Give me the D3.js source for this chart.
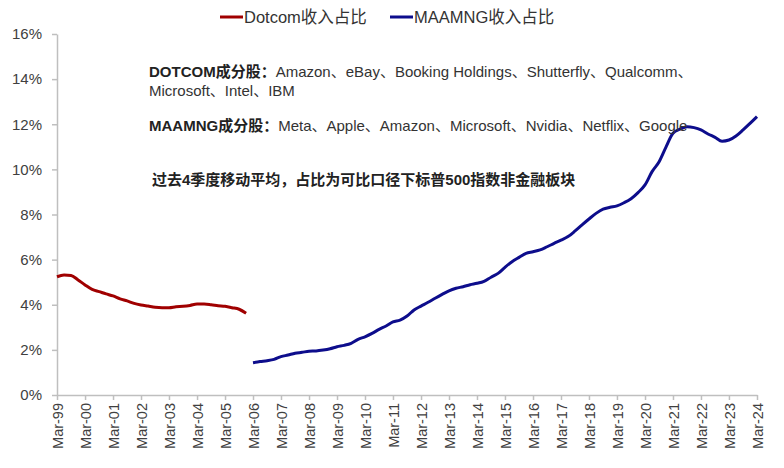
<!DOCTYPE html>
<html>
<head>
<meta charset="utf-8">
<script src="https://cdn.jsdelivr.net/npm/d3@7"></script>
<style>
  body { margin: 0; background: #fff; }
  text { font-family: "Liberation Sans", Arial, "Noto Sans CJK SC", sans-serif; }
</style>
</head>
<body>
<div id="chart"></div>
<script>
// quarterly values, % of S&P 500 non-financial revenue
const dotcomStart = [1999, 3]; // Mar-99
const dotcomValues = [
    5.24, 5.32, 5.30, 5.10,
    4.88, 4.68, 4.58, 4.48,
    4.39, 4.26, 4.17, 4.06,
    3.99, 3.94, 3.89, 3.87,
    3.87, 3.91, 3.93, 3.97,
    4.03, 4.03, 4.00, 3.96,
    3.93, 3.87, 3.80, 3.62
];
const maamngStart = [2006, 3]; // Mar-06
const maamngValues = [
    1.43, 1.48, 1.52, 1.58,
    1.70, 1.77, 1.85, 1.89,
    1.94, 1.95, 1.99, 2.05,
    2.14, 2.20, 2.29, 2.47,
    2.58, 2.73, 2.91, 3.06,
    3.24, 3.32, 3.50, 3.77,
    3.94, 4.11, 4.29, 4.46,
    4.62, 4.73, 4.80, 4.89,
    4.95, 5.04, 5.22, 5.39,
    5.66, 5.91, 6.10, 6.28,
    6.35, 6.43, 6.57, 6.72,
    6.86, 7.02, 7.27, 7.54,
    7.80, 8.05, 8.24, 8.32,
    8.38, 8.52, 8.70, 8.97,
    9.31, 9.90, 10.34, 11.00,
    11.60, 11.78, 11.89, 11.85,
    11.75, 11.57, 11.42, 11.25,
    11.30, 11.48, 11.75, 12.04,
    12.34
];
const tickYears = d3.range(1999, 2025); // Mar-99 ... Mar-24
const yTicks = [0, 2, 4, 6, 8, 10, 12, 14, 16];
const seriesNames = ["Dotcom收入占比", "MAAMNG收入占比"];
const notes = [
    {bold: "DOTCOM成分股：", rest: "Amazon、eBay、Booking Holdings、Shutterfly、Qualcomm、"},
    {bold: "", rest: "Microsoft、Intel、IBM"},
    {bold: "MAAMNG成分股：", rest: "Meta、Apple、Amazon、Microsoft、Nvidia、Netflix、Google"},
    {bold: "过去4季度移动平均，占比为可比口径下标普500指数非金融板块", rest: ""}
];

// page setup
const width = 784;
const height = 468;
const margin = {top: 34, right: 27, bottom: 73, left: 57};
const red = "#a00000";
const blue = "#0d0d8c";
const axisColor = "#bfbfbf";
const textColor = "#404040";

const svg = d3.select("#chart")
    .append("svg")
    .attr("width", width)
    .attr("height", height);

// turn a start month + quarter index into a date
const toSeries = (start, values) => values.map((v, i) => ({
    date: new Date(start[0], start[1] - 1 + i * 3, 1),
    value: v
}));
const dotcom = toSeries(dotcomStart, dotcomValues);
const maamng = toSeries(maamngStart, maamngValues);

const x = d3.scaleTime()
    .domain([new Date(1999, 2, 1), new Date(2024, 2, 1)])
    .range([margin.left, width - margin.right]);

const y = d3.scaleLinear()
    .domain([0, 16])
    .range([height - margin.bottom, margin.top]);

// y axis
const yAxis = svg.append("g")
    .attr("transform", `translate(${margin.left},0)`)
    .call(d3.axisLeft(y).tickValues(yTicks).tickFormat(d => d + "%").tickSize(5).tickSizeOuter(0).tickPadding(10));

// x axis
const xAxis = svg.append("g")
    .attr("transform", `translate(0,${height - margin.bottom})`)
    .call(d3.axisBottom(x)
        .tickValues(tickYears.map(yr => new Date(yr, 2, 1)))
        .tickFormat(d3.timeFormat("Mar-%y"))
        .tickSize(5)
        .tickSizeOuter(0));

xAxis.selectAll("text")
    .attr("transform", "rotate(-90)")
    .attr("x", -8)
    .attr("y", 0)
    .attr("dy", "0.35em")
    .style("text-anchor", "end");

[xAxis, yAxis].forEach(ax => {
    ax.select(".domain").attr("stroke", axisColor).attr("stroke-width", 1.5);
    ax.selectAll(".tick line").attr("stroke", axisColor).attr("stroke-width", 1.5);
    ax.selectAll("text")
        .attr("fill", textColor)
        .style("font-family", "'Liberation Sans', Arial, sans-serif");
});
yAxis.selectAll("text").attr("font-size", "15px");
xAxis.selectAll("text").attr("font-size", "14.5px");

// lines
const line = d3.line()
    .x(d => x(d.date))
    .y(d => y(d.value))
    .curve(d3.curveMonotoneX);

svg.append("path")
    .datum(dotcom)
    .attr("fill", "none")
    .attr("stroke", red)
    .attr("stroke-width", 3)
    .attr("d", line);

svg.append("path")
    .datum(maamng)
    .attr("fill", "none")
    .attr("stroke", blue)
    .attr("stroke-width", 3)
    .attr("d", line);

// legend
const legendItems = [
    {name: seriesNames[0], color: red, x: 220},
    {name: seriesNames[1], color: blue, x: 390}
];
legendItems.forEach(d => {
    svg.append("line")
        .attr("x1", d.x).attr("x2", d.x + 23)
        .attr("y1", 17).attr("y2", 17)
        .attr("stroke", d.color)
        .attr("stroke-width", 3);
    svg.append("text")
        .attr("x", d.x + 24)
        .attr("y", 17)
        .attr("dy", "0.35em")
        .attr("font-size", "16.5px")
        .attr("fill", "#333")
        .text(d.name);
});

// annotation text
const noteY = [72, 91, 126, 180];
notes.forEach((n, i) => {
    const t = svg.append("text")
        .attr("x", i === 3 ? 152 : 149)
        .attr("y", noteY[i])
        .attr("dy", "0.35em")
        .attr("font-size", "15px")
        .attr("fill", "#222");
    if (n.bold) t.append("tspan").attr("font-weight", "bold").text(n.bold);
    if (n.rest) t.append("tspan").attr("fill", "#333").text(n.rest);
});
</script>
</body>
</html>
